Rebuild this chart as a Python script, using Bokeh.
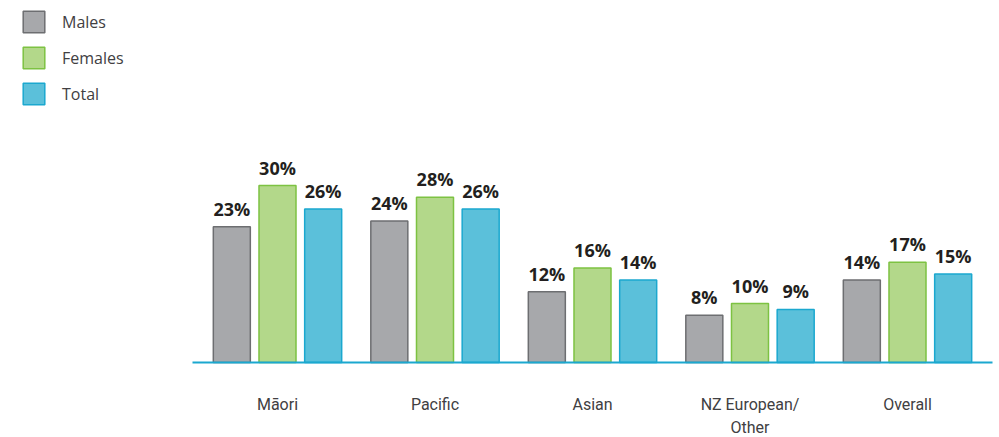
from bokeh.plotting import figure
from bokeh.models import ColumnDataSource, Range1d, Legend, LegendItem
from bokeh.transform import dodge
from bokeh.core.properties import value
from bokeh.embed import file_html
from bokeh.resources import INLINE

categories = ["Māori", "Pacific", "Asian", "NZ European/ Other", "Overall"]
category_labels = ["Māori", "Pacific", "Asian", "NZ European/\nOther", "Overall"]
males = [23, 24, 12, 8, 14]
females = [30, 28, 16, 10, 17]
total = [26, 26, 14, 9, 15]

src = ColumnDataSource(dict(
    pos=list(range(len(categories))), lab=category_labels, zero=[0] * len(categories),
    males=males, females=females, total=total,
    ml=[f"{v}%" for v in males], fl=[f"{v}%" for v in females], tl=[f"{v}%" for v in total],
))

W, H = 999, 437
AX = 362          # axis line pixel row
PX = 5.9          # pixels per percent
STEP = 157.5      # pixels per category
FIRST = 277       # pixel centre of first category
x0 = -FIRST / STEP
p = figure(width=W, height=H, output_backend="svg", toolbar_location=None,
           x_range=Range1d(x0, x0 + W / STEP),
           y_range=Range1d(-(H - AX) / PX, AX / PX),
           min_border_left=0, min_border_right=0, min_border_top=0, min_border_bottom=0,
           outline_line_color=None)
p.xaxis.visible = False
p.yaxis.visible = False
p.xgrid.visible = False
p.ygrid.visible = False
p.background_fill_color = None
p.border_fill_color = "white"

series = [
    ("males", "ml", -0.29, "#a7a8ab", "#6d6e71", "Males"),
    ("females", "fl", 0.0, "#b3d88a", "#7dc242", "Females"),
    ("total", "tl", 0.29, "#5bc0da", "#1ba8cf", "Total"),
]
items = []
for col, lcol, off, fill, line, name in series:
    r = p.vbar(x=dodge("pos", off), top=col, width=0.235, source=src,
               fill_color=fill, line_color=line, line_width=1.5)
    items.append(LegendItem(label=name, renderers=[r]))
    p.text(x=dodge("pos", off), y=col, text=lcol, source=src,
           text_align="center", text_baseline="bottom", y_offset=-6,
           text_font=value("Open Sans"), text_font_style="bold", text_font_size="18px",
           text_color="#231f20")

p.segment(x0=[x0 + 192 / STEP], x1=[x0 + 992 / STEP], y0=[0], y1=[0],
          line_color="#1ba8cf", line_width=2)

p.text(x="pos", y="zero", text="lab", source=src, text_align="center", text_baseline="top",
       y_offset=32, text_font=value("Roboto"), text_font_size="16px", text_color="#414042",
       text_line_height=1.25)

legend = Legend(items=items, location=(20, H - 8 - 99), glyph_width=27, glyph_height=27,
                label_standoff=15, spacing=9, padding=0, margin=0,
                border_line_color=None, background_fill_alpha=0,
                label_text_font="Open Sans", label_text_font_size="16px",
                label_text_color="#414042", label_height=27)
p.add_layout(legend, "center")

open("out.html", "w").write(file_html(p, INLINE))
